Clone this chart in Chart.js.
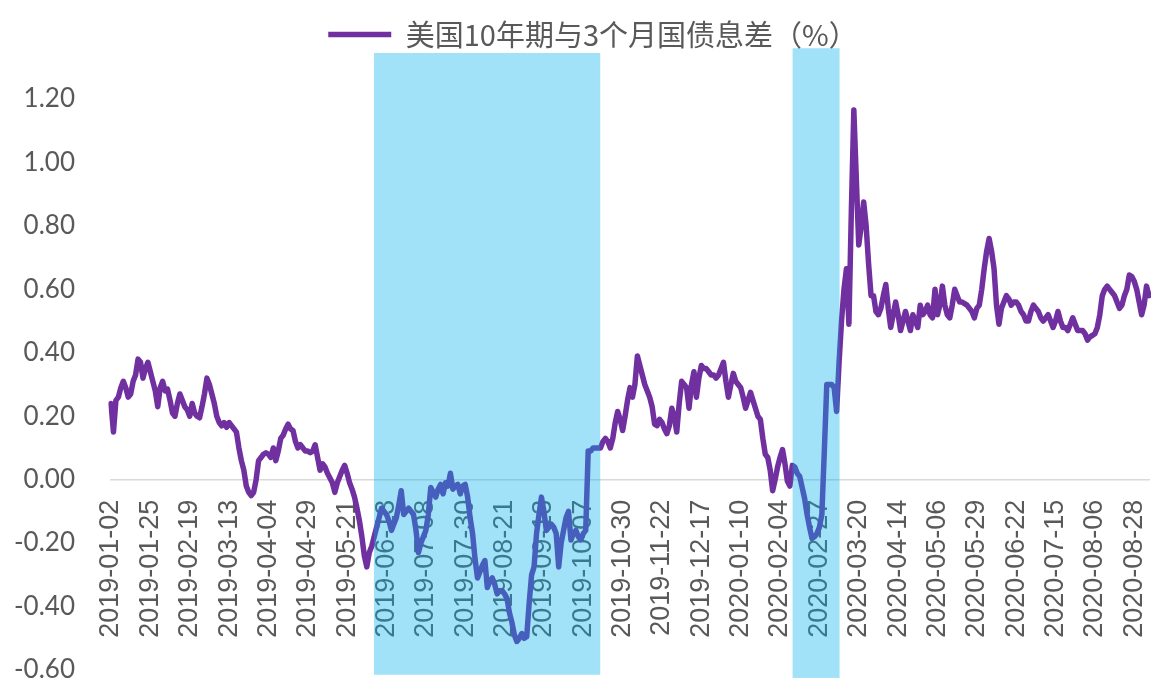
<!DOCTYPE html>
<html>
<head>
<meta charset="utf-8">
<script src="https://cdn.jsdelivr.net/npm/chart.js@4"></script>
<style>
html,body{margin:0;padding:0;background:#fff;}
#wrap{width:1151px;height:680px;}
</style>
</head>
<body>
<div id="wrap"><canvas id="c" width="1151" height="680"></canvas></div>
<script>
// Series label
const seriesLabel = '美国10年期与3个月国债息差（%）';

// Tick labels shown on the x axis (one every 16 trading days)
const tickLabels = [
  '2019-01-02','2019-01-25','2019-02-19','2019-03-13','2019-04-04','2019-04-29','2019-05-21',
  '2019-06-13','2019-07-08','2019-07-30','2019-08-21','2019-09-13','2019-10-07','2019-10-30',
  '2019-11-22','2019-12-17','2020-01-10','2020-02-04','2020-02-27','2020-03-20','2020-04-14',
  '2020-05-06','2020-05-29','2020-06-22','2020-07-15','2020-08-06','2020-08-28'
];
const tickEvery = 16;

// Daily spread values (%), one per trading day from 2019-01-02
const spreadValues = [
  0.24,0.15,0.25,0.26,0.29,0.31,0.29,0.26,0.27,0.31,0.33,0.38,0.37,0.32,0.35,0.37,
  0.34,0.31,0.28,0.23,0.29,0.31,0.28,0.285,0.25,0.21,0.20,0.24,0.27,0.25,0.23,0.22,
  0.20,0.24,0.21,0.20,0.195,0.23,0.27,0.32,0.30,0.27,0.24,0.20,0.18,0.17,0.18,0.165,
  0.18,0.17,0.16,0.15,0.10,0.06,0.03,-0.02,-0.04,-0.05,-0.04,0.00,0.06,0.07,0.08,0.085,
  0.08,0.07,0.10,0.06,0.09,0.13,0.14,0.16,0.175,0.16,0.155,0.12,0.10,0.11,0.10,0.09,
  0.09,0.085,0.09,0.11,0.07,0.03,0.05,0.04,0.02,0.005,-0.01,-0.04,-0.01,0.01,0.03,0.045,
  0.02,-0.01,-0.03,-0.055,-0.09,-0.13,-0.18,-0.24,-0.275,-0.23,-0.21,-0.18,-0.15,-0.12,-0.09,-0.10,
  -0.11,-0.13,-0.16,-0.14,-0.12,-0.08,-0.035,-0.11,-0.10,-0.09,-0.10,-0.11,-0.16,-0.23,-0.20,-0.18,
  -0.16,-0.11,-0.025,-0.04,-0.055,-0.03,-0.015,-0.045,-0.01,-0.02,0.02,-0.03,-0.02,-0.015,-0.045,-0.02,
  -0.015,-0.055,-0.12,-0.17,-0.25,-0.31,-0.29,-0.27,-0.255,-0.34,-0.32,-0.31,-0.33,-0.36,-0.35,-0.35,
  -0.36,-0.375,-0.42,-0.45,-0.49,-0.51,-0.50,-0.485,-0.50,-0.495,-0.39,-0.30,-0.275,-0.17,-0.11,-0.055,
  -0.10,-0.16,-0.15,-0.14,-0.15,-0.17,-0.275,-0.20,-0.16,-0.12,-0.10,-0.19,-0.17,-0.16,-0.18,-0.19,
  -0.17,-0.16,0.09,0.09,0.10,0.10,0.10,0.10,0.12,0.13,0.12,0.10,0.13,0.18,0.215,0.19,
  0.155,0.20,0.25,0.29,0.26,0.30,0.39,0.36,0.33,0.30,0.28,0.26,0.23,0.175,0.17,0.19,
  0.18,0.16,0.145,0.17,0.225,0.20,0.15,0.24,0.31,0.30,0.29,0.225,0.30,0.34,0.26,0.32,
  0.36,0.35,0.35,0.34,0.33,0.33,0.32,0.33,0.35,0.37,0.31,0.26,0.30,0.335,0.31,0.30,
  0.29,0.26,0.225,0.25,0.275,0.25,0.225,0.20,0.19,0.13,0.08,0.07,0.03,-0.035,0.00,0.04,
  0.07,0.095,0.05,-0.005,-0.02,0.045,0.04,0.02,0.01,-0.025,-0.06,-0.11,-0.15,-0.185,-0.18,-0.17,
  -0.15,-0.11,0.09,0.30,0.30,0.30,0.29,0.215,0.37,0.50,0.60,0.665,0.49,0.85,1.165,0.95,
  0.74,0.80,0.875,0.80,0.68,0.58,0.58,0.53,0.52,0.54,0.58,0.615,0.54,0.48,0.52,0.56,
  0.52,0.47,0.50,0.53,0.50,0.47,0.52,0.50,0.48,0.55,0.52,0.53,0.55,0.52,0.51,0.60,
  0.52,0.55,0.61,0.55,0.52,0.51,0.55,0.60,0.58,0.56,0.56,0.555,0.55,0.54,0.53,0.51,
  0.54,0.55,0.60,0.665,0.72,0.76,0.72,0.665,0.55,0.49,0.54,0.56,0.58,0.57,0.55,0.56,
  0.56,0.55,0.53,0.52,0.50,0.50,0.53,0.55,0.54,0.53,0.51,0.50,0.51,0.52,0.50,0.48,
  0.50,0.53,0.50,0.48,0.48,0.47,0.49,0.51,0.49,0.47,0.47,0.47,0.46,0.44,0.45,0.455,
  0.46,0.48,0.52,0.58,0.60,0.61,0.60,0.59,0.58,0.56,0.54,0.55,0.58,0.60,0.645,0.64,
  0.625,0.60,0.56,0.52,0.55,0.61,0.58
];

// Shaded periods (in trading-day index units) and their vertical extent (value units)
const shadeStart  = [106.9, 277.1];
const shadeEnd    = [198.9, 296.2];
const shadeTop    = [1.345, 1.36];
const shadeBottom = [-0.615, -0.625];

const categories = spreadValues.map((_, i) => (i % tickEvery === 0 && tickLabels[i / tickEvery]) ? tickLabels[i / tickEvery] : '');

const shadePlugin = {
  id: 'shade',
  afterDraw(chart) {
    const {ctx, scales: {x, y}} = chart;
    ctx.save();
    ctx.fillStyle = 'rgba(0,176,240,0.37)';
    for (let k = 0; k < shadeStart.length; k++) {
      const x0 = x.getPixelForValue(shadeStart[k]);
      const x1 = x.getPixelForValue(shadeEnd[k]);
      const y0 = y.getPixelForValue(shadeTop[k]);
      const y1 = y.getPixelForValue(shadeBottom[k]);
      ctx.fillRect(x0, y0, x1 - x0, y1 - y0);
    }
    ctx.restore();
  }
};

// nudge the centred legend a little to the right, as in the original
const legendNudge = {
  id: 'legendNudge',
  afterLayout(chart) {
    if (chart.legend) { chart.legend.left += 37; }
  }
};

function zeroPadding(s) {
  s.paddingLeft = 0; s.paddingRight = 0; s.paddingTop = 0; s.paddingBottom = 0;
}

new Chart(document.getElementById('c'), {
  type: 'line',
  data: {
    labels: categories,
    datasets: [{
      label: seriesLabel,
      data: spreadValues,
      borderColor: '#7030A0',
      backgroundColor: '#7030A0',
      borderWidth: 5.5,
      borderCapStyle: 'round',
      borderJoinStyle: 'round',
      pointRadius: 0,
      tension: 0,
      fill: false
    }]
  },
  options: {
    responsive: false,
    animation: false,
    devicePixelRatio: 1,
    layout: { padding: { left: 0, right: 2, top: 0, bottom: 10 } },
    plugins: {
      legend: {
        position: 'top',
        labels: {
          usePointStyle: true,
          pointStyle: 'line',
          pointStyleWidth: 63,
          padding: 20,
          color: '#595959',
          font: { family: "'Noto Sans CJK SC', 'Liberation Sans', sans-serif", size: 29 }
        }
      },
      tooltip: { enabled: false }
    },
    scales: {
      x: {
        type: 'category',
        position: { y: 0 },
        offset: false,
        grid: { display: true, color: 'rgba(0,0,0,0)', drawTicks: false },
        border: { display: true, color: '#d9d9d9', width: 1.5 },
        ticks: {
          autoSkip: false,
          maxRotation: 90,
          minRotation: 90,
          padding: 20,
          color: '#595959',
          font: { family: "'Liberation Sans', Arial, sans-serif", size: 27 },
          callback: function (v) { const l = this.getLabelForValue(v); return l ? l : null; }
        },
        afterFit: (s) => { s.height = 0; zeroPadding(s); }
      },
      y: {
        min: -0.6,
        max: 1.326,
        grid: { display: false, drawTicks: false },
        border: { display: false },
        ticks: {
          stepSize: 0.2,
          includeBounds: true,
          padding: 36,
          color: '#595959',
          font: { family: "Lato, 'Liberation Sans', sans-serif", size: 26 },
          callback: (v) => {
            const n = Number(v) * 5;
            return Math.abs(n - Math.round(n)) < 1e-6 ? Number(v).toFixed(2) : null;
          }
        },
        afterFit: (s) => { s.width = 111; zeroPadding(s); }
      }
    }
  },
  plugins: [shadePlugin, legendNudge]
});
</script>
</body>
</html>
